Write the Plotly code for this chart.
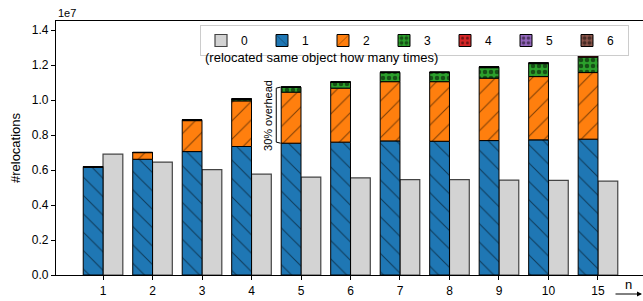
import plotly.graph_objects as go

categories = ["1", "2", "3", "4", "5", "6", "7", "8", "9", "10", "15"]
reloc0 = [6.91e6, 6.46e6, 6.03e6, 5.77e6, 5.60e6, 5.56e6, 5.46e6, 5.46e6, 5.43e6, 5.41e6, 5.37e6]
reloc1 = [6.16e6, 6.62e6, 7.06e6, 7.35e6, 7.54e6, 7.60e6, 7.67e6, 7.65e6, 7.69e6, 7.73e6, 7.77e6]
reloc2 = [0.04e6, 0.38e6, 1.77e6, 2.61e6, 2.92e6, 3.09e6, 3.39e6, 3.41e6, 3.57e6, 3.62e6, 3.81e6]
reloc3 = [0.0, 0.01e6, 0.04e6, 0.10e6, 0.28e6, 0.34e6, 0.52e6, 0.52e6, 0.60e6, 0.74e6, 0.88e6]
reloc4 = [0.0, 0.0, 0.01e6, 0.01e6, 0.01e6, 0.01e6, 0.02e6, 0.02e6, 0.04e6, 0.03e6, 0.07e6]
reloc5 = [0.0, 0.0, 0.0, 0.0, 0.0, 0.0, 0.0, 0.0, 0.01e6, 0.01e6, 0.03e6]
reloc6 = [0.0, 0.0, 0.0, 0.0, 0.0, 0.0, 0.0, 0.0, 0.0, 0.0, 0.04e6]
ytick_vals = [0, 0.2e7, 0.4e7, 0.6e7, 0.8e7, 1.0e7, 1.2e7, 1.4e7]
ytick_text = ["0.0", "0.2", "0.4", "0.6", "0.8", "1.0", "1.2", "1.4"]

FONT = "Liberation Sans"
idx = list(range(len(categories)))

fig = go.Figure()

fig.add_trace(go.Bar(
    x=idx, y=reloc0, name="0", offset=0, width=0.4,
    marker=dict(color="#d3d3d3", line=dict(color="#444444", width=1.2)),
))

stack_series = [
    ("1", reloc1, "#1f77b4", "\\", 13, 0.08),
    ("2", reloc2, "#ff7f0e", "/", 13, 0.08),
    ("3", reloc3, "#2ca02c", ".", 6, 0.45),
    ("4", reloc4, "#d62728", ".", 6, 0.3),
    ("5", reloc5, "#9467bd", ".", 6, 0.4),
    ("6", reloc6, "#8c564b", ".", 6, 0.5),
]
base = [0.0] * len(categories)
for name, vals, col, shape, size, sol in stack_series:
    fig.add_trace(go.Bar(
        x=idx, y=vals, base=list(base), name=name, offset=-0.4, width=0.4,
        marker=dict(color=col, line=dict(color="black", width=1),
                    pattern=dict(shape=shape, fgcolor="black", bgcolor=col,
                                 size=size, solidity=sol, fillmode="overlay")),
    ))
    base = [b + v for b, v in zip(base, vals)]

# bracket for 30% overhead at n=5
k = 4
y_lo = reloc1[k]
y_hi = base[k]
xl = k - 0.5
xr = k - 0.41
fig.add_shape(type="path", xref="x", yref="y",
              path=f"M {xr},{y_hi} L {xl},{y_hi - 0.006e7} L {xl},{y_lo + 0.006e7} L {xr},{y_lo}",
              line=dict(color="black", width=1))
fig.add_annotation(x=k - 0.67, y=(y_lo + y_hi) / 2, xref="x", yref="y",
                   xanchor="center", yanchor="middle",
                   text="30% overhead", textangle=-90, showarrow=False,
                   font=dict(family=FONT, size=11, color="black"))

PW, PH = 587, 254
fig.add_annotation(x=0.0, y=1.0, xref="paper", yref="paper", xanchor="left", yanchor="bottom",
                   text="1e7", showarrow=False,
                   font=dict(family=FONT, size=11, color="black"))
fig.add_annotation(x=(203 - 56) / PW, y=(275 - 58) / PH, xref="paper", yref="paper",
                   xanchor="left", yanchor="middle",
                   text="(relocated same object how many times)", showarrow=False,
                   font=dict(family=FONT, size=13, color="black"))
# n arrow
fig.add_annotation(x=(642 - 56) / PW, y=(275 - 294) / PH, xref="paper", yref="paper",
                   ax=-28, ay=0, axref="pixel", ayref="pixel", text="",
                   showarrow=True, arrowhead=2, arrowsize=1, arrowwidth=1, arrowcolor="black")
fig.add_annotation(x=(628 - 56) / PW, y=(275 - 284) / PH, xref="paper", yref="paper",
                   xanchor="center", yanchor="middle",
                   text="n", showarrow=False, font=dict(family=FONT, size=13, color="black"))

fig.update_layout(
    width=643, height=301,
    margin=dict(l=56, r=0, t=21, b=26, autoexpand=False),
    paper_bgcolor="white", plot_bgcolor="white",
    barmode="overlay",
    font=dict(family=FONT, size=12, color="black"),
    showlegend=True,
    legend=dict(orientation="h", x=(200 - 56) / PW, y=(275 - 25) / PH,
                xanchor="left", yanchor="top",
                bgcolor="white", bordercolor="#cccccc", borderwidth=1,
                font=dict(family=FONT, size=12), entrywidth=16, entrywidthmode="pixels",
                itemwidth=30, traceorder="normal"),
    xaxis=dict(range=[-0.95, 10.91], tickvals=idx, ticktext=categories,
               showline=True, linecolor="black", linewidth=1.2, mirror=True,
               ticks="outside", ticklen=4, tickcolor="black", automargin=False,
               showgrid=False, zeroline=False, tickfont=dict(size=12)),
    yaxis=dict(range=[0, 1.453e7], tickvals=ytick_vals, ticktext=ytick_text,
               showline=True, linecolor="black", linewidth=1.2, automargin=False,
               ticks="outside", ticklen=4, tickcolor="black",
               showgrid=False, zeroline=False, tickfont=dict(size=12),
               title=dict(text="#relocations", font=dict(size=13), standoff=8)),
)

fig.write_html("out.html", config={"displayModeBar": False},
               post_script="document.body.style.margin='0';document.body.style.overflow='hidden';")
